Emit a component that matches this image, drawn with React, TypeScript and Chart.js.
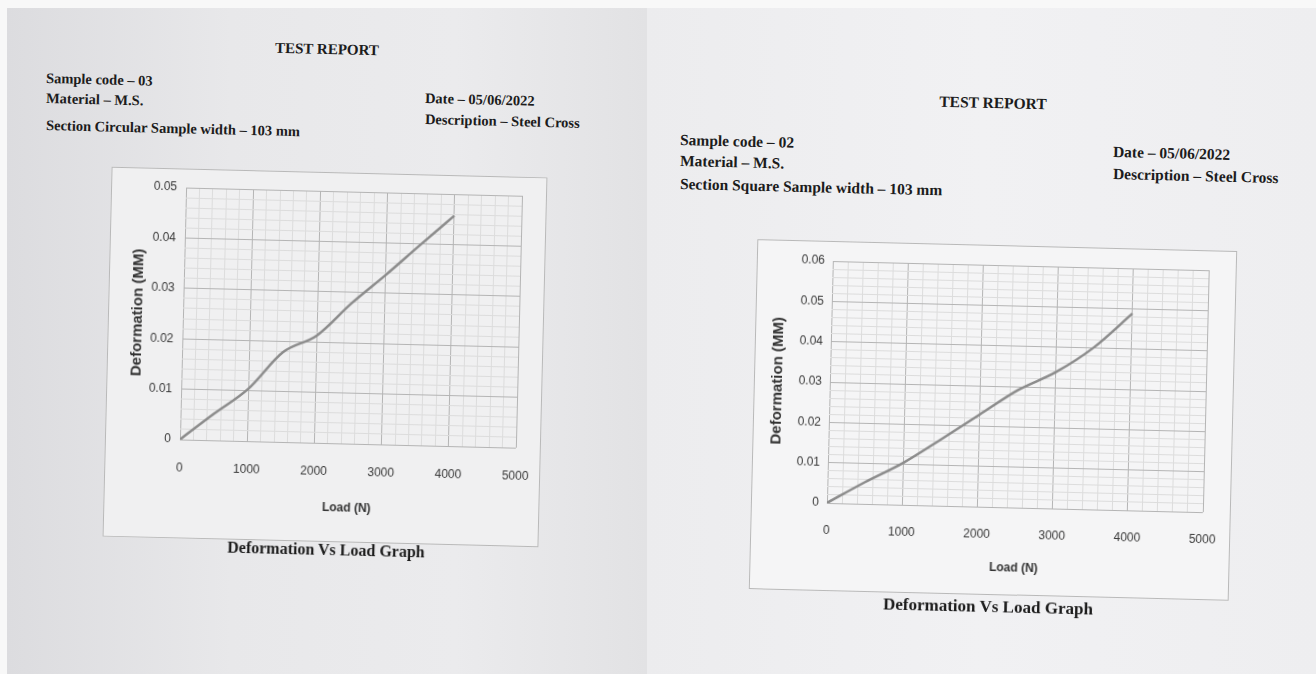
import React, { useEffect, useRef } from "react";
import { Chart, registerables } from "chart.js";

Chart.register(...registerables);

// ---- data ----
const loadCircular = [0, 500, 1000, 1500, 2000, 2500, 3000, 3500, 4000];
const deformCircular = [0, 0.0053, 0.0104, 0.0178, 0.0213, 0.0278, 0.0336, 0.0397, 0.0457];

const loadSquare = [0, 500, 1000, 1500, 2000, 2500, 3000, 3500, 4000];
const deformSquare = [0, 0.0054, 0.0104, 0.0165, 0.0228, 0.0291, 0.0338, 0.0402, 0.0488];

const xTickValues = [0, 1000, 2000, 3000, 4000, 5000];
const xTickLabels = ["0", "1000", "2000", "3000", "4000", "5000"];

const yTickValuesCircular = [0, 0.01, 0.02, 0.03, 0.04, 0.05];
const yTickLabelsCircular = ["0", "0.01", "0.02", "0.03", "0.04", "0.05"];

const yTickValuesSquare = [0, 0.01, 0.02, 0.03, 0.04, 0.05, 0.06];
const yTickLabelsSquare = ["0", "0.01", "0.02", "0.03", "0.04", "0.05", "0.06"];

const xAxisTitle = "Load (N)";
const yAxisTitle = "Deformation (MM)";

const SERIF = '"Liberation Serif", "Times New Roman", serif';
const SANS = '"Liberation Sans", Arial, sans-serif';

function findLabel(v: number, values: number[], labels: string[]) {
  for (let i = 0; i < values.length; i++) {
    if (Math.abs(values[i] - v) < 1e-7) return labels[i];
  }
  return "";
}

type ChartProps = {
  load: number[];
  deform: number[];
  yValues: number[];
  yLabels: string[];
  left: number;
  top: number;
  width: number;
  height: number;
  pad: { left: number; right: number; top: number; bottom: number };
  yAxisWidth: number;
  xAxisHeight: number;
  xTickGap: number;
  yTickPad: number;
  bg: string;
};

function ReportChart(p: ChartProps) {
  const ref = useRef<HTMLCanvasElement>(null);
  useEffect(() => {
    if (!ref.current) return;
    const yMax = p.yValues[p.yValues.length - 1];
    const chart = new Chart(ref.current, {
      type: "line",
      data: {
        datasets: [
          {
            data: p.load.map((x, i) => ({ x, y: p.deform[i] })),
            borderColor: "#8c8c8c",
            borderWidth: 2.5,
            pointRadius: 0,
            tension: 0.35,
            cubicInterpolationMode: "monotone",
            fill: false,
          },
        ],
      },
      options: {
        animation: false,
        responsive: true,
        maintainAspectRatio: false,
        layout: { padding: p.pad },
        plugins: { legend: { display: false }, tooltip: { enabled: false } },
        scales: {
          x: {
            type: "linear",
            min: 0,
            max: 5000,
            ticks: {
              stepSize: 200,
              autoSkip: false,
              maxRotation: 0,
              padding: 0,
              color: "#3a3a3a",
              font: { family: SANS, size: 12 },
              callback: (v: any) => findLabel(Number(v), xTickValues, xTickLabels),
            },
            grid: {
              drawTicks: true,
              tickLength: p.xTickGap,
              tickColor: "rgba(0,0,0,0)",
              lineWidth: 1,
              color: (ctx: any) =>
                findLabel(ctx.tick ? ctx.tick.value : -1, xTickValues, xTickLabels) !== ""
                  ? "#b4b4b4"
                  : "#dcdcdc",
            },
            border: { display: false },
            title: {
              display: true,
              text: xAxisTitle,
              padding: 0,
              color: "#333",
              font: { family: SANS, size: 12, weight: "bold" },
            },
            afterFit: (scale: any) => {
              scale.height = p.xAxisHeight;
            },
          },
          y: {
            type: "linear",
            min: 0,
            max: yMax,
            ticks: {
              stepSize: 0.002,
              autoSkip: false,
              padding: p.yTickPad,
              color: "#3a3a3a",
              font: { family: SANS, size: 12 },
              callback: (v: any) => findLabel(Number(v), p.yValues, p.yLabels),
            },
            grid: {
              drawTicks: false,
              lineWidth: 1,
              color: (ctx: any) =>
                findLabel(ctx.tick ? ctx.tick.value : -1, p.yValues, p.yLabels) !== ""
                  ? "#b4b4b4"
                  : "#dcdcdc",
            },
            border: { display: false },
            title: {
              display: true,
              text: yAxisTitle,
              padding: 0,
              color: "#333",
              font: { family: SANS, size: 15, weight: "bold" },
            },
            afterFit: (scale: any) => {
              scale.width = p.yAxisWidth;
            },
          },
        },
      } as any,
    });
    return () => chart.destroy();
  }, []);
  return (
    <div
      style={{
        position: "absolute",
        left: p.left,
        top: p.top,
        width: p.width,
        height: p.height,
        background: p.bg,
        border: "1px solid #b9b9b9",
        boxSizing: "border-box",
        transform: "rotate(1.4deg)",
        transformOrigin: "center center",
      }}
    >
      <canvas ref={ref} />
    </div>
  );
}

function Txt(props: {
  x: number;
  y: number;
  size: number;
  children: React.ReactNode;
  center?: boolean;
}) {
  const lh = props.size * 1.3;
  return (
    <div
      style={{
        position: "absolute",
        left: props.x,
        top: props.y - lh / 2,
        lineHeight: lh + "px",
        height: lh,
        fontFamily: SERIF,
        fontWeight: "bold",
        fontSize: props.size,
        color: "#1c1c1c",
        whiteSpace: "nowrap",
        transform: props.center ? "translateX(-50%) rotate(1.4deg)" : "rotate(1.4deg)",
        transformOrigin: props.center ? "center center" : "left center",
      }}
    >
      {props.children}
    </div>
  );
}

export default function App() {
  useEffect(() => {
    document.body.style.margin = "0";
  }, []);
  return (
    <div
      style={{
        position: "fixed",
        left: 0,
        top: 0,
        width: 1316,
        height: 674,
        background: "#f8f8f8",
        overflow: "hidden",
      }}
    >
      <div
        style={{
          position: "absolute",
          left: 7,
          top: 8,
          width: 640,
          height: 666,
          background: "linear-gradient(to right, #dcdcdf 0%, #e8e8ea 35%, #ebebed 70%, #e2e2e4 100%)",
        }}
      />
      <div
        style={{
          position: "absolute",
          left: 647,
          top: 8,
          width: 669,
          height: 666,
          background: "linear-gradient(to right, #ececee 0%, #f1f1f3 50%, #eeeef0 100%)",
        }}
      />

      {/* Left report */}
      <Txt x={327} y={50} size={15} center>TEST REPORT</Txt>
      <Txt x={46} y={78} size={14.5}>Sample code – 03</Txt>
      <Txt x={46} y={98} size={14.5}>Material – M.S.</Txt>
      <Txt x={46} y={125} size={14.5}>Section Circular Sample width – 103 mm</Txt>
      <Txt x={425} y={98} size={14.5}>Date – 05/06/2022</Txt>
      <Txt x={425} y={119} size={14.5}>Description – Steel Cross</Txt>

      <ReportChart
        load={loadCircular}
        deform={deformCircular}
        yValues={yTickValuesCircular}
        yLabels={yTickLabelsCircular}
        left={107}
        top={172}
        width={436}
        height={370}
        pad={{ left: 20, right: 24, top: 18, bottom: 26 }}
        yAxisWidth={54}
        xAxisHeight={72}
        xTickGap={21}
        yTickPad={9}
        bg="#f0f0f1"
      />
      <Txt x={326} y={550} size={16} center>Deformation Vs Load Graph</Txt>

      {/* Right report */}
      <Txt x={993} y={103} size={15.5} center>TEST REPORT</Txt>
      <Txt x={680} y={140} size={15.5}>Sample code – 02</Txt>
      <Txt x={680} y={161} size={15.5}>Material – M.S.</Txt>
      <Txt x={680} y={184} size={15.5}>Section Square Sample width – 103 mm</Txt>
      <Txt x={1113} y={152} size={15.5}>Date – 05/06/2022</Txt>
      <Txt x={1113} y={174} size={15.5}>Description – Steel Cross</Txt>

      <ReportChart
        load={loadSquare}
        deform={deformSquare}
        yValues={yTickValuesSquare}
        yLabels={yTickLabelsSquare}
        left={753}
        top={245}
        width={480}
        height={350}
        pad={{ left: 14, right: 27, top: 19, bottom: 19 }}
        yAxisWidth={61}
        xAxisHeight={68}
        xTickGap={20}
        yTickPad={8}
        bg="#f5f5f6"
      />
      <Txt x={988} y={607} size={17} center>Deformation Vs Load Graph</Txt>
    </div>
  );
}
